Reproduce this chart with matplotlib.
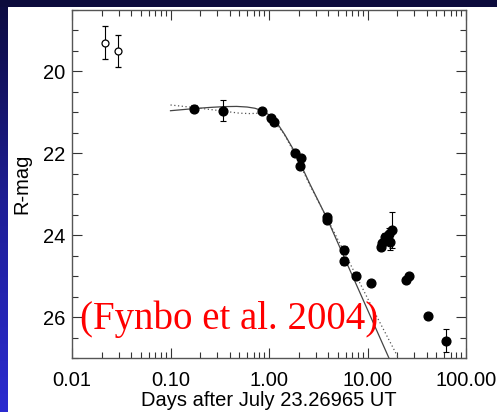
import numpy as np
import matplotlib.pyplot as plt
from matplotlib.colors import LinearSegmentedColormap
from matplotlib.ticker import FixedLocator, MultipleLocator, LogLocator, NullFormatter

# early open-circle points (days, R-mag, err)
early_t = [0.0216, 0.0295]
early_mag = [19.30, 19.50]
early_err = [0.40, 0.40]

# filled points
t = [0.173, 0.339, 0.85, 1.05, 1.12, 1.84, 2.11, 2.05, 3.91, 3.91, 5.82, 5.82,
     7.7, 10.8, 13.6, 13.9, 15.1, 16.4, 17.0, 17.8, 24.4, 26.5, 41.4, 63.0]
mag = [20.91, 20.96, 20.97, 21.15, 21.23, 22.00, 22.12, 22.30, 23.56, 23.64, 24.37, 24.63,
       24.99, 25.16, 24.28, 24.18, 24.05, 23.98, 24.16, 23.88, 25.09, 24.99, 25.97, 26.58]
err = [0.08, 0.26, 0.05, 0.05, 0.05, 0.05, 0.05, 0.05, 0.05, 0.05, 0.10, 0.10,
       0.08, 0.05, 0.05, 0.05, 0.10, 0.15, 0.20, 0.44, 0.08, 0.05, 0.08, 0.28]

# model curves
solid_t = [0.1, 0.17, 0.25, 0.35, 0.47, 0.6, 0.72, 0.85, 1.0, 1.2, 1.45, 1.84, 2.6, 3.9, 6.0, 10.0, 16.5]
solid_mag = [20.96, 20.91, 20.88, 20.86, 20.855, 20.87, 20.9, 20.96, 21.06, 21.25, 21.55, 21.98,
             22.75, 23.6, 24.62, 25.82, 27.0]
dot_t = [0.1, 0.17, 0.32, 0.5, 0.64, 0.81, 1.05, 1.4, 1.84, 2.6, 3.91, 7.0, 12.5, 20.6]
dot_mag = [20.82, 20.88, 20.96, 21.02, 21.03, 21.02, 21.15, 21.5, 22.02, 22.78, 23.6, 24.8, 26.0, 27.0]

xticks = [0.01, 0.1, 1, 10, 100]
xticklabels = ['0.01', '0.10', '1.00', '10.00', '100.00']
yticks = [20, 22, 24, 26]

plt.rcParams['font.family'] = ['Liberation Sans', 'DejaVu Sans']

fig = plt.figure(figsize=(4.97, 4.12), dpi=100)
fig.patch.set_facecolor('#0c0b3c')

# white slide panel
wax = fig.add_axes([8/497, 0, 1 - 8/497, 1 - 7/412])
wax.axis('off')
wax.add_patch(plt.Rectangle((0, 0), 1, 1, transform=wax.transAxes, color='white'))

# left blue gradient strip
gax = fig.add_axes([0, 0, 8/497, 1 - 7/412])
grad = np.linspace(0, 1, 256).reshape(-1, 1)
cmap = LinearSegmentedColormap.from_list('bg', ['#0d0c42', '#1f1f98', '#2b2bd0'])
gax.imshow(grad, aspect='auto', cmap=cmap, origin='upper')
gax.axis('off')

ax = fig.add_axes([72/497, 1 - 358/412, 394/497, 348/412])
ax.set_zorder(5)
ax.set_facecolor('white')
ax.set_xscale('log')
ax.set_xlim(0.01, 100)
ax.set_ylim(27.0, 18.5)

ax.plot(solid_t, solid_mag, color='#444444', lw=0.9)
ax.plot(dot_t, dot_mag, color='#555555', lw=0.9, linestyle=(0, (1, 2)))

ax.errorbar(early_t, early_mag, yerr=early_err, fmt='o', mfc='white', mec='black',
            mew=0.9, ms=5, ecolor='black', elinewidth=0.8, capsize=2, capthick=0.8)
ax.errorbar(t, mag, yerr=err, fmt='o', color='black', ms=6.3, ecolor='black',
            elinewidth=0.8, capsize=2, capthick=0.8)

ax.text(0.0121, 26.05, '(Fynbo et al. 2004)', color='red', fontsize=28,
        family=['Liberation Serif', 'DejaVu Serif'], va='center', ha='left')

ax.xaxis.set_major_locator(FixedLocator(xticks))
ax.set_xticklabels(xticklabels)
ax.xaxis.set_minor_locator(LogLocator(base=10, subs=np.arange(2, 10)))
ax.xaxis.set_minor_formatter(NullFormatter())
ax.yaxis.set_major_locator(FixedLocator(yticks))
ax.yaxis.set_minor_locator(MultipleLocator(0.5))

ax.tick_params(which='both', direction='in', top=True, right=True, labelsize=14.5,
               color='#333333', width=0.8)
ax.tick_params(which='major', length=7, pad=5)
ax.tick_params(axis='x', which='major', pad=9)
ax.tick_params(which='minor', length=4)
for s in ax.spines.values():
    s.set_color('#555555')
    s.set_linewidth(1.0)

ax.set_xlabel('Days after July 23.26965 UT', fontsize=14.5, labelpad=1)
ax.set_ylabel('R-mag', fontsize=14.5, labelpad=8)

fig.savefig('out.png', dpi=100, facecolor=fig.get_facecolor())
